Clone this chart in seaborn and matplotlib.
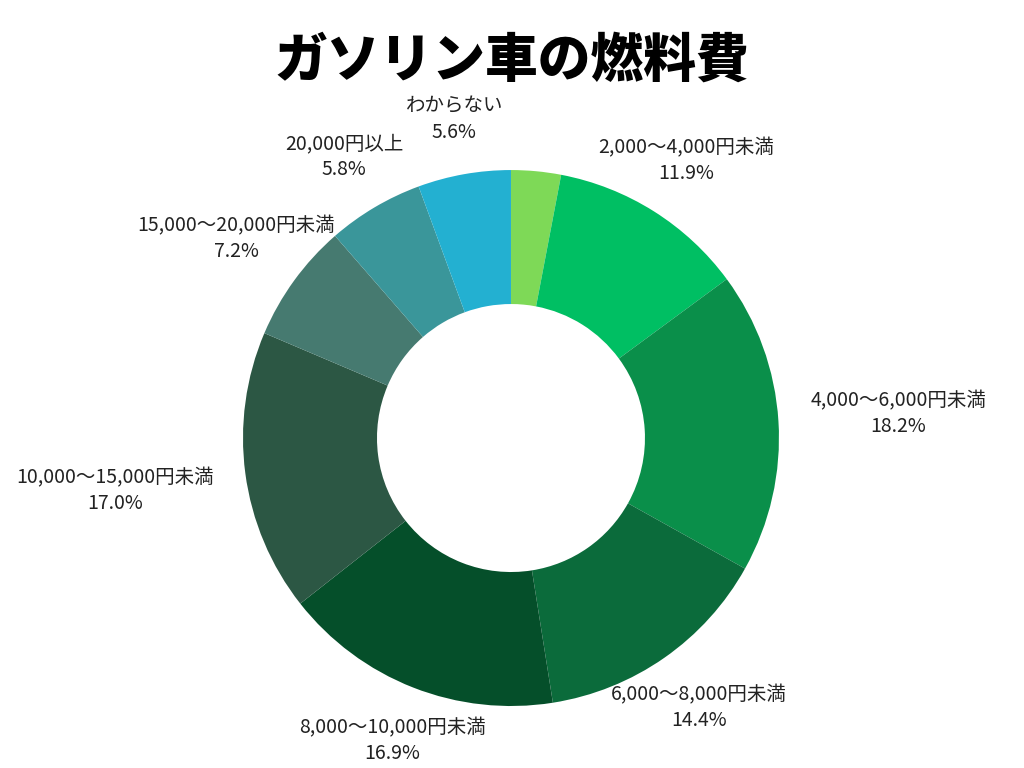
import numpy as np
import matplotlib.pyplot as plt
import seaborn as sns

# ガソリン車の燃料費（月額）
categories = ['2,000円未満', '2,000〜4,000円未満', '4,000〜6,000円未満', '6,000〜8,000円未満',
              '8,000〜10,000円未満', '10,000〜15,000円未満', '15,000〜20,000円未満',
              '20,000円以上', 'わからない']
shares = [3.0, 11.9, 18.2, 14.4, 16.9, 17.0, 7.2, 5.8, 5.6]
colors = ['#7ED957', '#00BF63', '#0A8F4A', '#0B6B3B', '#054F2A',
          '#2C5744', '#467A70', '#3A969A', '#23B0D1']

sns.set_theme(style='white')
plt.rcParams['font.family'] = ['Noto Sans CJK JP', 'DejaVu Sans']

fig = plt.figure(figsize=(10.24, 7.68), dpi=100)
fig.patch.set_facecolor('white')
ax = fig.add_axes([0.2373, 0.0807, 0.5234, 0.6979])

wedges, _ = ax.pie(shares, colors=sns.color_palette(colors), startangle=90, counterclock=False,
                   radius=1.0, wedgeprops=dict(width=0.5, linewidth=0))
# pie() resets the limits, so fix them afterwards
ax.set_xlim(-1, 1)
ax.set_ylim(-1, 1)
ax.axis('off')

fig.canvas.draw()
renderer = fig.canvas.get_renderer()
inv = ax.transData.inverted()
r0 = 1.12
for i, (w, name, val) in enumerate(zip(wedges, categories, shares)):
    if i == 0:
        continue  # smallest slice is not labelled in the original
    ang = np.deg2rad((w.theta1 + w.theta2) / 2)
    c, s = np.cos(ang), np.sin(ang)
    t = ax.text(r0 * c, r0 * s, f'{name}\n{val:.1f}%', ha='center', va='center',
                multialignment='center', fontsize=14, linespacing=1.3, color='#222222')
    bb = t.get_window_extent(renderer)
    (x0, y0), (x1, y1) = inv.transform([[bb.x0, bb.y0], [bb.x1, bb.y1]])
    hw, hh = (x1 - x0) / 2, (y1 - y0) / 2
    off = min(hw / max(abs(c), 1e-6), hh / max(abs(s), 1e-6))
    t.set_position(((r0 + off) * c, (r0 + off) * s))

fig.text(0.5, 0.921, 'ガソリン車の燃料費', ha='center', va='center',
         fontsize=38, fontweight='black', color='black')

plt.savefig('out.png', dpi=100, facecolor='white')
